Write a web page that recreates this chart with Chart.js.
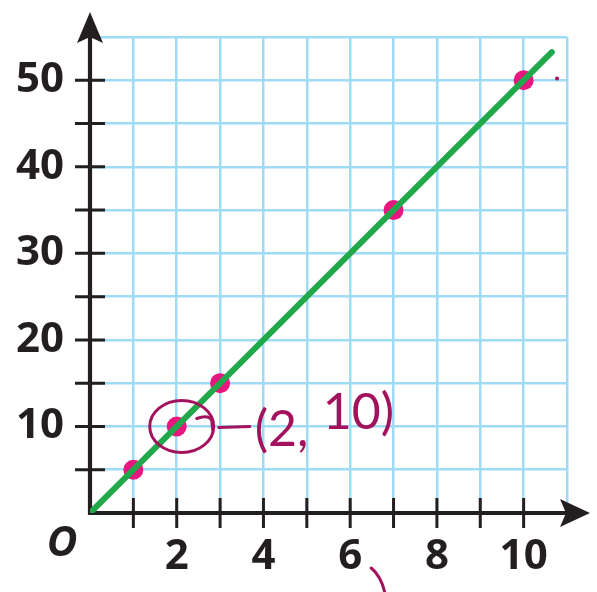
<!DOCTYPE html>
<html>
<head>
<meta charset="utf-8">
<script src="https://cdn.jsdelivr.net/npm/chart.js@4.4.1/dist/chart.umd.min.js"></script>
<style>
  html, body { margin: 0; padding: 0; background: #ffffff; }
  #wrap { width: 597px; height: 592px; }
</style>
</head>
<body>
<div id="wrap"><canvas id="c" width="597" height="592"></canvas></div>
<script>
// ---- data ----
const pointX = [1, 2, 3, 7, 10];
const pointY = [5, 10, 15, 35, 50];
const lineX = [0, 10.65];
const lineY = [0, 53.25];
const strayMarkX = [10.77];
const strayMarkY = [50.2];
const xTickLabels = [2, 4, 6, 8, 10];
const yTickLabels = [10, 20, 30, 40, 50];
const xMarks = [1, 2, 3, 4, 5, 6, 7, 8, 9, 10];
const yMarks = [5, 10, 15, 20, 25, 30, 35, 40, 45, 50];
const originLabel = 'O';
const noteText1 = '(2,';
const noteText2 = '10)';
const notePoint = { x: 2, y: 10 };

const AXIS = '#231f20';
const GRID = '#a0dbf6';
const GREEN = '#20a84b';
const PINK = '#e8177f';
const INK = '#a3135d';
const LABEL_FONT = { family: '"Open Sans", "Liberation Sans", sans-serif', size: 42, weight: 'bold' };

const axesPlugin = {
  id: 'axesPlugin',
  beforeDatasetsDraw(chart) {
    const ctx = chart.ctx;
    const xs = chart.scales.x, ys = chart.scales.y;
    const x0 = xs.getPixelForValue(0), y0 = ys.getPixelForValue(0);
    ctx.save();
    ctx.strokeStyle = AXIS;
    ctx.fillStyle = AXIS;
    // tick marks
    ctx.lineWidth = 3;
    ctx.beginPath();
    xMarks.forEach(v => {
      const px = xs.getPixelForValue(v);
      ctx.moveTo(px, y0 - 15); ctx.lineTo(px, y0 + 15);
    });
    yMarks.forEach(v => {
      const py = ys.getPixelForValue(v);
      ctx.moveTo(x0 - 15, py); ctx.lineTo(x0 + 15, py);
    });
    ctx.stroke();
    // axes lines
    ctx.lineWidth = 4.2;
    ctx.beginPath();
    ctx.moveTo(x0 - 2, y0); ctx.lineTo(chart.width - 16, y0);
    ctx.moveTo(x0, y0 + 2); ctx.lineTo(x0, 30);
    ctx.stroke();
    // x arrow
    const tx = chart.width - 7;
    ctx.beginPath();
    ctx.moveTo(tx, y0);
    ctx.lineTo(tx - 30, y0 - 14);
    ctx.lineTo(tx - 24, y0);
    ctx.lineTo(tx - 30, y0 + 14);
    ctx.closePath();
    ctx.fill();
    // y arrow
    const ty = 12;
    ctx.beginPath();
    ctx.moveTo(x0, ty);
    ctx.lineTo(x0 - 13, ty + 31);
    ctx.lineTo(x0, ty + 25);
    ctx.lineTo(x0 + 13, ty + 31);
    ctx.closePath();
    ctx.fill();
    ctx.restore();
  },
  afterDatasetsDraw(chart) {
    const ctx = chart.ctx;
    const xs = chart.scales.x, ys = chart.scales.y;
    const x0 = xs.getPixelForValue(0), y0 = ys.getPixelForValue(0);
    // origin label
    ctx.save();
    ctx.fillStyle = AXIS;
    ctx.font = 'italic bold 42px "Open Sans", "Liberation Sans", sans-serif';
    ctx.textAlign = 'center';
    ctx.textBaseline = 'middle';
    ctx.fillText(originLabel, x0 - 28, y0 + 31);
    ctx.restore();
    // handwritten annotation
    const px = xs.getPixelForValue(notePoint.x), py = ys.getPixelForValue(notePoint.y);
    ctx.save();
    ctx.strokeStyle = INK;
    ctx.fillStyle = INK;
    ctx.lineWidth = 3;
    ctx.lineCap = 'round';
    ctx.lineJoin = 'round';
    ctx.beginPath();
    ctx.ellipse(px + 5, py, 32, 26, 0, 0, Math.PI * 2);
    ctx.stroke();
    ctx.beginPath();
    ctx.moveTo(px + 20, py - 8);
    ctx.quadraticCurveTo(px + 32, py - 12, px + 35, py - 6);
    ctx.lineTo(px + 36, py + 4);
    ctx.stroke();
    ctx.beginPath();
    ctx.moveTo(px + 42, py + 1);
    ctx.lineTo(px + 73, py);
    ctx.stroke();
    ctx.font = '400 50px Lato, "Open Sans", sans-serif';
    ctx.textBaseline = 'middle';
    ctx.textAlign = 'left';
    ctx.fillText(noteText1, px + 78, py + 3);
    ctx.fillText(noteText2, px + 146, py - 14);
    // stray stroke near the 6 label
    const x6 = xs.getPixelForValue(6);
    ctx.beginPath();
    ctx.moveTo(x6 + 21, y0 + 55);
    ctx.quadraticCurveTo(x6 + 31, y0 + 63, x6 + 35, chart.height + 2);
    ctx.stroke();
    ctx.restore();
  }
};

new Chart(document.getElementById('c'), {
  data: {
    datasets: [
      {
        type: 'line',
        data: lineX.map((x, i) => ({ x, y: lineY[i] })),
        borderColor: GREEN,
        borderWidth: 6,
        borderCapStyle: 'round',
        pointRadius: 0,
        fill: false,
        order: 1
      },
      {
        type: 'scatter',
        data: pointX.map((x, i) => ({ x, y: pointY[i] })),
        backgroundColor: PINK,
        borderWidth: 0,
        pointRadius: 10,
        order: 2
      },
      {
        type: 'scatter',
        data: strayMarkX.map((x, i) => ({ x, y: strayMarkY[i] })),
        backgroundColor: INK,
        borderWidth: 0,
        pointRadius: 2,
        order: 3
      }
    ]
  },
  options: {
    responsive: false,
    animation: false,
    events: [],
    layout: { padding: { top: 37, right: 30, left: 0, bottom: 0 } },
    plugins: { legend: { display: false }, tooltip: { enabled: false } },
    scales: {
      x: {
        type: 'linear',
        min: 0, max: 11,
        afterFit(s) { s.height = 79; s.paddingLeft = 0; s.paddingRight = 0; },
        border: { display: false },
        grid: {
          color: ctx => ctx.tick && ctx.tick.value === 0 ? 'rgba(0,0,0,0)' : GRID,
          lineWidth: 2.5,
          drawTicks: false
        },
        ticks: {
          stepSize: 1,
          autoSkip: false,
          maxRotation: 0,
          padding: 19,
          color: AXIS,
          font: LABEL_FONT,
          callback: v => xTickLabels.includes(v) ? String(v) : ''
        }
      },
      y: {
        type: 'linear',
        min: 0, max: 55,
        afterFit(s) { s.width = 90; s.paddingTop = 0; s.paddingBottom = 0; },
        border: { display: false },
        grid: {
          color: ctx => ctx.tick && ctx.tick.value === 0 ? 'rgba(0,0,0,0)' : GRID,
          lineWidth: 2.5,
          drawTicks: false
        },
        ticks: {
          stepSize: 5,
          autoSkip: false,
          padding: 26,
          color: AXIS,
          font: LABEL_FONT,
          callback: v => yTickLabels.includes(v) ? String(v) : ''
        }
      }
    }
  },
  plugins: [axesPlugin]
});
</script>
</body>
</html>
